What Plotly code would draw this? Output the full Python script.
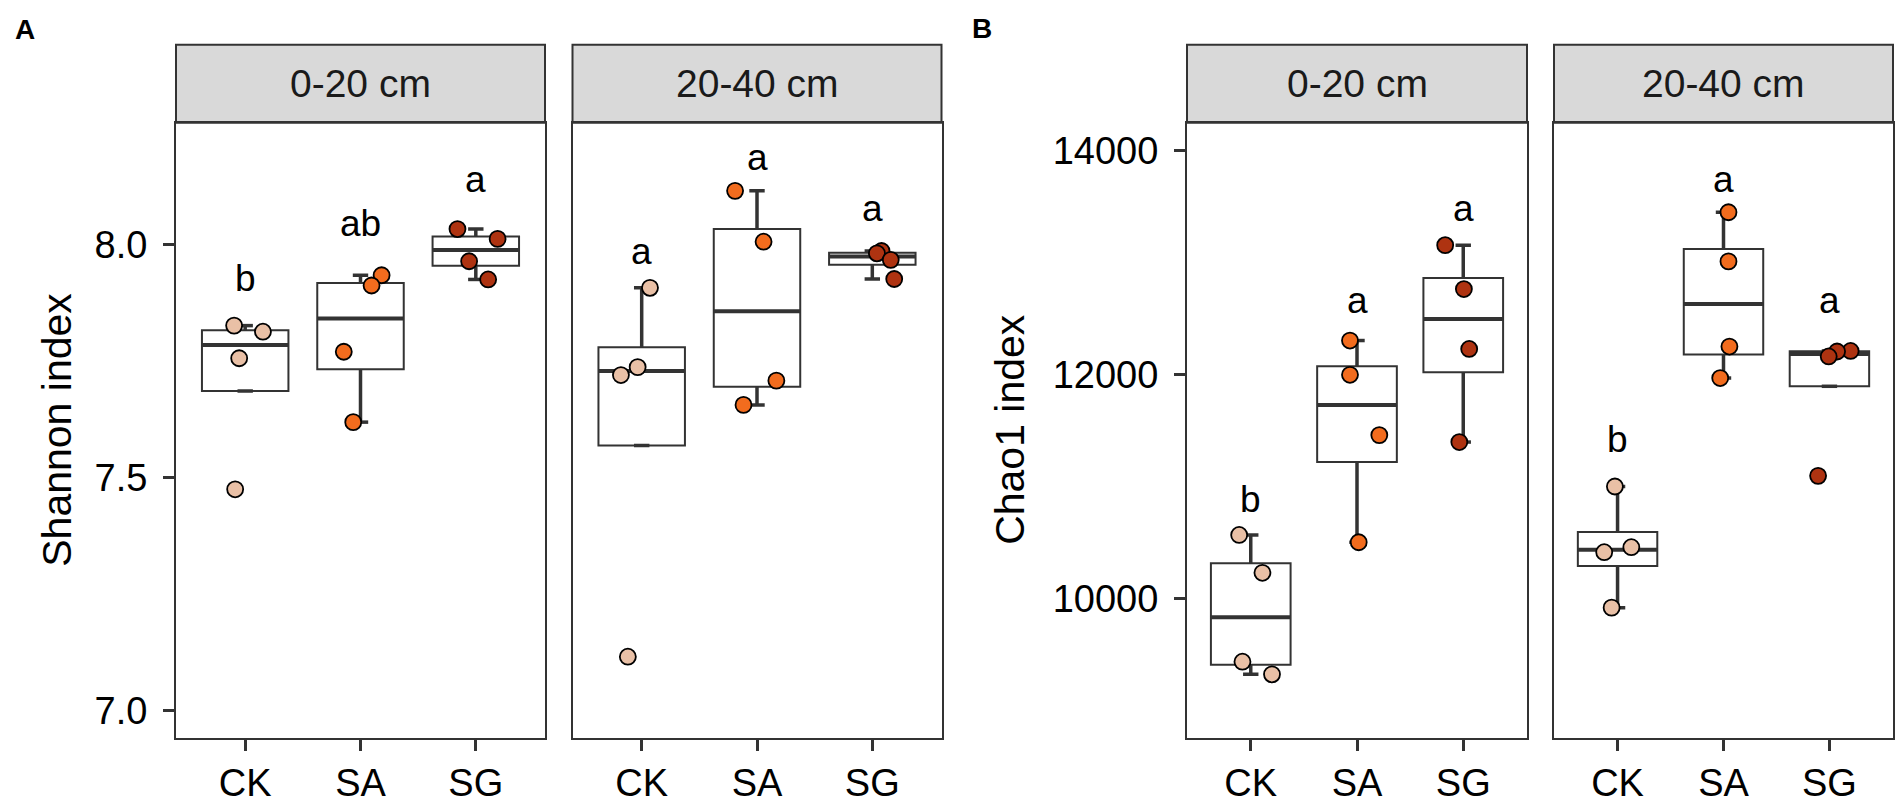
import numpy as np
import plotly.graph_objects as go

groups = ["CK", "SA", "SG"]
depths = ["0-20 cm", "20-40 cm"]
fills = ["#E9C0A6", "#F26C1E", "#AE3311"]

# Shannon index, one list per group (CK, SA, SG)
shannon_0_20 = [[7.826, 7.813, 7.756, 7.475], [7.934, 7.912, 7.770, 7.619], [8.033, 8.012, 7.964, 7.925]]
shannon_20_40 = [[7.907, 7.737, 7.720, 7.116], [8.115, 8.006, 7.708, 7.656], [7.986, 7.981, 7.967, 7.926]]
# Chao1 index
chao_0_20 = [[10569, 10231, 9437, 9324], [12306, 12000, 11461, 10504], [13158, 12766, 12231, 11399]]
chao_20_40 = [[11002, 10460, 10415, 9920], [13452, 13013, 12252, 11971], [12213, 12208, 12164, 11097]]

# horizontal jitter of the points (category units)
jit_shannon_0_20 = [[-0.096, 0.154, -0.052, -0.087], [0.183, 0.096, -0.145, -0.063], [-0.159, 0.189, -0.058, 0.107]]
jit_shannon_20_40 = [[0.072, -0.035, -0.18, -0.12], [-0.19, 0.057, 0.168, -0.117], [0.08, 0.04, 0.16, 0.19]]
jit_chao_0_20 = [[-0.109, 0.11, -0.078, 0.2], [-0.066, -0.066, 0.21, 0.016], [-0.17, 0.006, 0.056, -0.037]]
jit_chao_20_40 = [[-0.025, 0.13, -0.126, -0.056], [0.047, 0.047, 0.056, -0.031], [0.2, 0.072, -0.007, -0.107]]

# significance letters and where they sit
let_shannon_0_20 = ["b", "ab", "a"]
let_shannon_20_40 = ["a", "a", "a"]
let_chao_0_20 = ["b", "a", "a"]
let_chao_20_40 = ["b", "a", "a"]
lety_shannon_0_20 = [7.926, 8.046, 8.14]
lety_shannon_20_40 = [7.985, 8.1865, 8.078]
lety_chao_0_20 = [10884, 12662, 13484]
lety_chao_20_40 = [11422, 13748, 12667]

shannon_ticks = [7.0, 7.5, 8.0]
chao_ticks = [10000, 12000, 14000]

W, H = 1904, 804
FONT = "Liberation Sans, Arial, sans-serif"
DARK = "#333333"
BOXW = 0.75


def box_stats(v):
    v = np.array(v, dtype=float)
    q1, med, q3 = np.percentile(v, [25, 50, 75])
    iqr = q3 - q1
    lo = v[v >= q1 - 1.5 * iqr].min()
    hi = v[v <= q3 + 1.5 * iqr].max()
    return q1, med, q3, min(lo, q1), max(hi, q3)


panels = [
    (shannon_0_20, jit_shannon_0_20, let_shannon_0_20, lety_shannon_0_20, 176, 545, 1),
    (shannon_20_40, jit_shannon_20_40, let_shannon_20_40, lety_shannon_20_40, 572.5, 941.5, 2),
    (chao_0_20, jit_chao_0_20, let_chao_0_20, lety_chao_0_20, 1187, 1527, 3),
    (chao_20_40, jit_chao_20_40, let_chao_20_40, lety_chao_20_40, 1554, 1893, 4),
]

ybot, ytop, strip_top = 741.5, 123.3, 45
yd = [1 - ybot / H, 1 - ytop / H]

fig = go.Figure()
annotations = []
shapes = []


def label(x, y, text, size, xref="paper", yref="paper", angle=0, color="black"):
    return dict(x=x, y=y, xref=xref, yref=yref, text=text, showarrow=False, textangle=angle,
                xanchor="center", yanchor="middle", font=dict(family=FONT, size=size, color=color))


# boxes first so they sit underneath everything else
for vals, jit, lets, lety, x0, x1, k in panels:
    xa = "x" if k == 1 else "x%d" % k
    ya = "y" if k == 1 else "y%d" % k
    st = [box_stats(v) for v in vals]
    fig.add_trace(go.Box(
        x=[1, 2, 3], q1=[s[0] for s in st], median=[s[1] for s in st], q3=[s[2] for s in st],
        lowerfence=[s[0] for s in st], upperfence=[s[2] for s in st],
        width=BOXW, whiskerwidth=0, fillcolor="white", boxpoints=False,
        line=dict(color=DARK, width=2), xaxis=xa, yaxis=ya, hoverinfo="skip"))

for vals, jit, lets, lety, x0, x1, k in panels:
    xa = "x" if k == 1 else "x%d" % k
    ya = "y" if k == 1 else "y%d" % k
    st = [box_stats(v) for v in vals]
    # whiskers
    wx, wy, cx, cy = [], [], [], []
    for i, s in enumerate(st):
        p = i + 1
        wx += [p, p, None, p, p, None]
        wy += [s[2], s[4], None, s[0], s[3], None]
        cx += [p, p]
        cy += [s[4], s[3]]
    fig.add_trace(go.Scatter(x=wx, y=wy, mode="lines", line=dict(color=DARK, width=3.5),
                             xaxis=xa, yaxis=ya, hoverinfo="skip"))
    fig.add_trace(go.Scatter(x=cx, y=cy, mode="markers",
                             marker=dict(symbol="line-ew", size=11, line=dict(color=DARK, width=3.5)),
                             xaxis=xa, yaxis=ya, hoverinfo="skip"))
    # medians
    mx, my = [], []
    for i, s in enumerate(st):
        mx += [i + 1 - BOXW / 2, i + 1 + BOXW / 2, None]
        my += [s[1], s[1], None]
    fig.add_trace(go.Scatter(x=mx, y=my, mode="lines", line=dict(color=DARK, width=4),
                             xaxis=xa, yaxis=ya, hoverinfo="skip"))
    # points
    for i, (v, j) in enumerate(zip(vals, jit)):
        fig.add_trace(go.Scatter(
            x=[i + 1 + d for d in j], y=v, mode="markers",
            marker=dict(size=16, color=fills[i], line=dict(color="black", width=1.8)),
            xaxis=xa, yaxis=ya))
    # letters
    for i, (t, yv) in enumerate(zip(lets, lety)):
        annotations.append(label(i + 1, yv, t, 37, xref=xa, yref=ya))
    # strip
    shapes.append(dict(type="rect", xref="paper", yref="paper", x0=x0 / W, x1=x1 / W,
                       y0=yd[1], y1=1 - strip_top / H, fillcolor="#D9D9D9",
                       line=dict(color=DARK, width=2), layer="below"))
    annotations.append(label((x0 + x1) / 2 / W, 1 - (strip_top + ytop) / 2 / H,
                             depths[(k - 1) % 2], 39, color="#1A1A1A"))

layout = dict(
    width=W, height=H, margin=dict(l=0, r=0, t=0, b=0),
    plot_bgcolor="white", paper_bgcolor="white", showlegend=False,
    font=dict(family=FONT, color="black"),
)

for vals, jit, lets, lety, x0, x1, k in panels:
    sx = "" if k == 1 else str(k)
    layout["xaxis" + sx] = dict(
        domain=[x0 / W, x1 / W], range=[0.4, 3.6], anchor="y" + sx,
        tickvals=[1, 2, 3], ticktext=groups, showgrid=False, zeroline=False,
        showline=True, mirror=True, linecolor=DARK, linewidth=2,
        ticks="outside", ticklen=11, tickwidth=2.5, tickcolor=DARK,
        tickfont=dict(family=FONT, size=38, color="black"), fixedrange=True)
    yax = dict(domain=yd, anchor="x" + sx, showgrid=False, zeroline=False,
               showline=True, mirror=True, linecolor=DARK, linewidth=2, fixedrange=True)
    if k in (1, 3):
        yax.update(ticks="outside", ticklen=11, tickwidth=2.5, tickcolor=DARK,
                   tickfont=dict(family=FONT, size=38, color="black"), ticklabelstandoff=8)
    if k == 1:
        yax.update(range=[6.942, 8.2612], tickvals=shannon_ticks, tickformat=".1f")
    elif k == 3:
        yax.update(range=[8757, 14252], tickvals=chao_ticks, tickformat="d")
    else:
        yax.update(matches="y" if k == 2 else "y3", showticklabels=False, ticks="")
    layout["yaxis" + sx] = yax

annotations += [
    label(57.5 / W, 1 - 432.4 / H, "Shannon index", 41, angle=-90),
    label(1010 / W, 1 - 432 / H, "Chao1 index", 41, angle=-90),
    label(24.7 / W, 1 - 30 / H, "<b>A</b>", 28),
    label(982 / W, 1 - 29 / H, "<b>B</b>", 28),
]
layout["annotations"] = annotations
layout["shapes"] = shapes

fig.update_layout(**layout)
fig.write_html("out.html", config={"displayModeBar": False},
               post_script="document.body.style.margin='0px';document.body.style.overflow='hidden';")
